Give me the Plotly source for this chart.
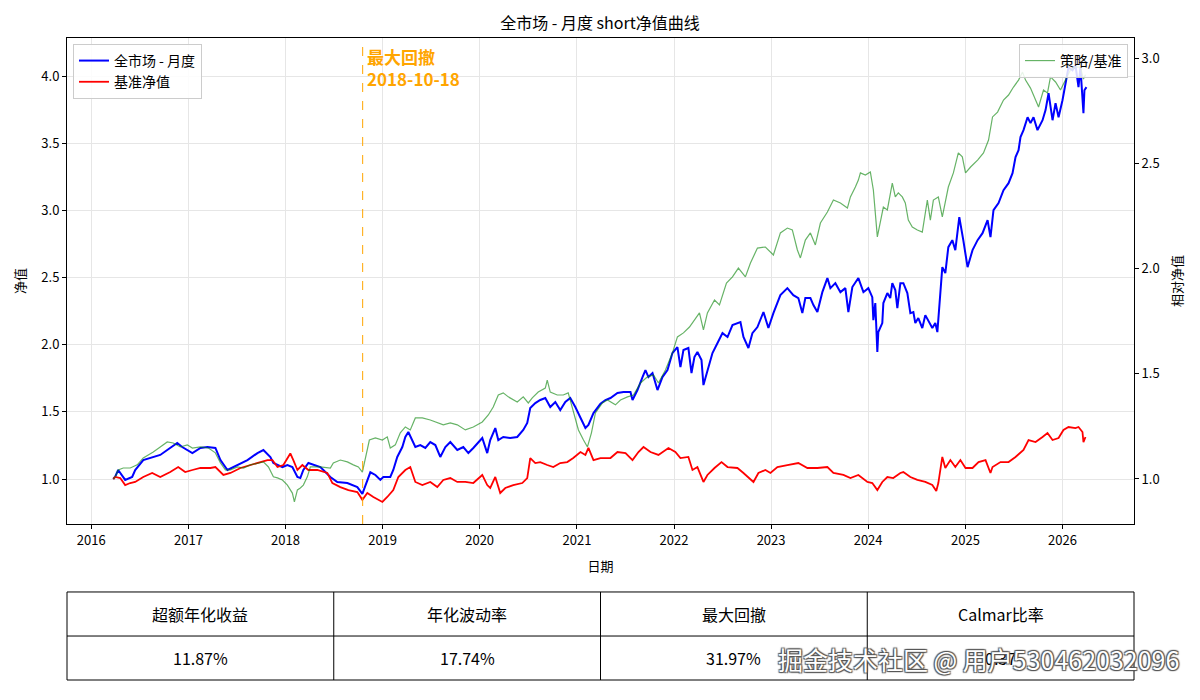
import pandas as pd
import plotly.graph_objects as go

# ---------------- data (decimal years) ----------------
strat_t = [2016.227, 2016.247, 2016.278, 2016.350, 2016.422, 2016.453, 2016.536, 2016.628, 2016.711, 2016.783,
           2016.886, 2016.937, 2017.040, 2017.123, 2017.195, 2017.277, 2017.329, 2017.401, 2017.504, 2017.607,
           2017.710, 2017.771, 2017.843, 2017.874, 2017.967, 2018.019, 2018.070, 2018.122, 2018.152, 2018.183,
           2018.235, 2018.307, 2018.358, 2018.389, 2018.461, 2018.533, 2018.636, 2018.739, 2018.791, 2018.822,
           2018.853, 2018.873, 2018.925, 2018.976, 2019.007, 2019.079, 2019.110, 2019.151, 2019.203, 2019.234,
           2019.265, 2019.306, 2019.337, 2019.388, 2019.440, 2019.491, 2019.543, 2019.594, 2019.646, 2019.697,
           2019.769, 2019.831, 2019.883, 2019.934, 2020.027, 2020.078, 2020.109, 2020.161, 2020.192, 2020.243,
           2020.315, 2020.387, 2020.449, 2020.490, 2020.521, 2020.573, 2020.624, 2020.676, 2020.727, 2020.779,
           2020.830, 2020.882, 2020.933, 2020.985, 2021.036, 2021.087, 2021.118, 2021.170, 2021.242, 2021.293,
           2021.345, 2021.417, 2021.479, 2021.551, 2021.572, 2021.623, 2021.675, 2021.705, 2021.736, 2021.778,
           2021.829, 2021.880, 2021.932, 2021.983, 2022.035, 2022.066, 2022.097, 2022.148, 2022.180, 2022.210,
           2022.241, 2022.283, 2022.303, 2022.344, 2022.396, 2022.448, 2022.499, 2022.551, 2022.602, 2022.684,
           2022.715, 2022.766, 2022.807, 2022.859, 2022.921, 2022.972, 2023.024, 2023.096, 2023.168, 2023.229,
           2023.281, 2023.322, 2023.353, 2023.405, 2023.436, 2023.477, 2023.528, 2023.580, 2023.611, 2023.662,
           2023.714, 2023.765, 2023.796, 2023.837, 2023.899, 2023.951, 2024.002, 2024.043, 2024.054, 2024.074,
           2024.095, 2024.105, 2024.146, 2024.157, 2024.198, 2024.228, 2024.249, 2024.280, 2024.301, 2024.332,
           2024.363, 2024.404, 2024.435, 2024.466, 2024.486, 2024.517, 2024.558, 2024.589, 2024.620, 2024.661,
           2024.692, 2024.713, 2024.764, 2024.795, 2024.826, 2024.867, 2024.898, 2024.939, 2024.980, 2025.022,
           2025.073, 2025.125, 2025.176, 2025.228, 2025.258, 2025.289, 2025.341, 2025.392, 2025.444, 2025.485,
           2025.516, 2025.547, 2025.567, 2025.598, 2025.640, 2025.670, 2025.701, 2025.742, 2025.794, 2025.825,
           2025.856, 2025.897, 2025.928, 2025.959, 2026.000, 2026.031, 2026.062, 2026.103, 2026.134, 2026.165,
           2026.185, 2026.216, 2026.226, 2026.247]
strat_v = [1.000, 1.017, 1.067, 0.993, 1.015, 1.067, 1.141, 1.164, 1.179, 1.216,
           1.268, 1.238, 1.193, 1.231, 1.238, 1.231, 1.141, 1.067, 1.104, 1.141,
           1.193, 1.216, 1.164, 1.119, 1.089, 1.104, 1.089, 1.015, 1.007, 1.067,
           1.119, 1.104, 1.089, 1.067, 1.015, 0.978, 0.970, 0.940, 0.890, 0.950,
           1.020, 1.050, 1.030, 0.993, 1.015, 1.015, 1.067, 1.164, 1.238, 1.313,
           1.350, 1.290, 1.238, 1.253, 1.231, 1.275, 1.253, 1.164, 1.238, 1.275,
           1.216, 1.238, 1.193, 1.231, 1.305, 1.193, 1.290, 1.379, 1.290, 1.313,
           1.305, 1.313, 1.365, 1.417, 1.528, 1.565, 1.588, 1.603, 1.536, 1.573,
           1.513, 1.573, 1.603, 1.536, 1.454, 1.380, 1.402, 1.491, 1.560, 1.588,
           1.603, 1.640, 1.647, 1.647, 1.588, 1.662, 1.759, 1.811, 1.759, 1.789,
           1.662, 1.759, 1.811, 1.938, 1.982, 1.833, 1.960, 1.975, 1.789, 1.908,
           1.945, 1.885, 1.699, 1.811, 1.938, 2.012, 2.086, 2.057, 2.146, 2.168,
           2.057, 1.975, 2.086, 2.131, 2.243, 2.124, 2.235, 2.369, 2.421, 2.369,
           2.347, 2.235, 2.347, 2.347, 2.295, 2.243, 2.391, 2.496, 2.421, 2.458,
           2.391, 2.421, 2.243, 2.429, 2.496, 2.391, 2.421, 2.354, 2.183, 2.310,
           1.945, 2.094, 2.161, 2.310, 2.384, 2.347, 2.458, 2.406, 2.272, 2.458,
           2.458, 2.384, 2.235, 2.243, 2.161, 2.198, 2.124, 2.220, 2.183, 2.124,
           2.161, 2.094, 2.577, 2.533, 2.726, 2.778, 2.704, 2.949, 2.778, 2.577,
           2.704, 2.778, 2.830, 2.927, 2.801, 3.001, 3.054, 3.150, 3.202, 3.277,
           3.396, 3.448, 3.545, 3.597, 3.693, 3.649, 3.693, 3.597, 3.671, 3.746,
           3.872, 3.671, 3.798, 3.693, 3.820, 3.946, 4.065, 4.043, 4.080, 3.917,
           4.065, 3.723, 3.894, 3.917]

bench_t = [2016.227, 2016.247, 2016.299, 2016.350, 2016.402, 2016.453, 2016.536, 2016.628, 2016.711, 2016.814,
           2016.896, 2016.968, 2017.040, 2017.123, 2017.226, 2017.277, 2017.359, 2017.432, 2017.535, 2017.637,
           2017.720, 2017.813, 2017.864, 2017.916, 2017.977, 2018.049, 2018.080, 2018.122, 2018.173, 2018.235,
           2018.327, 2018.430, 2018.482, 2018.564, 2018.647, 2018.739, 2018.791, 2018.842, 2018.904, 2018.997,
           2019.048, 2019.110, 2019.162, 2019.234, 2019.285, 2019.337, 2019.409, 2019.491, 2019.563, 2019.625,
           2019.697, 2019.769, 2019.852, 2019.934, 2020.027, 2020.078, 2020.109, 2020.161, 2020.212, 2020.264,
           2020.346, 2020.439, 2020.490, 2020.521, 2020.573, 2020.624, 2020.696, 2020.758, 2020.830, 2020.902,
           2020.964, 2021.036, 2021.087, 2021.118, 2021.170, 2021.242, 2021.345, 2021.417, 2021.500, 2021.572,
           2021.633, 2021.685, 2021.757, 2021.839, 2021.942, 2022.014, 2022.066, 2022.148, 2022.190, 2022.241,
           2022.303, 2022.344, 2022.417, 2022.489, 2022.551, 2022.653, 2022.715, 2022.766, 2022.818, 2022.869,
           2022.941, 2022.993, 2023.065, 2023.168, 2023.281, 2023.374, 2023.477, 2023.580, 2023.642, 2023.745,
           2023.817, 2023.899, 2023.992, 2024.043, 2024.095, 2024.146, 2024.198, 2024.259, 2024.332, 2024.363,
           2024.435, 2024.507, 2024.589, 2024.661, 2024.702, 2024.723, 2024.764, 2024.795, 2024.847, 2024.898,
           2024.950, 2025.001, 2025.073, 2025.135, 2025.207, 2025.258, 2025.279, 2025.361, 2025.444, 2025.516,
           2025.598, 2025.650, 2025.722, 2025.794, 2025.845, 2025.897, 2025.959, 2026.010, 2026.062, 2026.134,
           2026.165, 2026.206, 2026.216, 2026.237]
bench_v = [1.000, 1.015, 1.007, 0.955, 0.970, 0.978, 1.015, 1.045, 1.015, 1.052,
           1.089, 1.052, 1.067, 1.082, 1.082, 1.089, 1.030, 1.045, 1.082, 1.104,
           1.126, 1.141, 1.141, 1.089, 1.104, 1.190, 1.141, 1.067, 1.104, 1.067,
           1.067, 1.045, 0.970, 0.940, 0.918, 0.903, 0.845, 0.896, 0.866, 0.829,
           0.866, 0.918, 1.015, 1.067, 1.089, 0.978, 0.955, 0.978, 0.940, 0.993,
           1.007, 0.978, 0.978, 0.970, 1.030, 0.955, 0.933, 1.015, 0.896, 0.933,
           0.955, 0.970, 1.007, 1.156, 1.119, 1.126, 1.104, 1.089, 1.119, 1.126,
           1.156, 1.201, 1.179, 1.231, 1.141, 1.156, 1.156, 1.201, 1.193, 1.141,
           1.201, 1.238, 1.201, 1.179, 1.231, 1.201, 1.156, 1.164, 1.067, 1.089,
           0.978, 1.030, 1.082, 1.126, 1.089, 1.082, 1.045, 1.015, 0.978, 1.045,
           1.067, 1.045, 1.089, 1.104, 1.119, 1.082, 1.082, 1.089, 1.045, 1.030,
           1.007, 1.030, 0.978, 0.970, 0.918, 0.978, 1.015, 1.007, 1.045, 1.052,
           1.015, 0.993, 0.978, 0.955, 0.911, 0.970, 1.164, 1.082, 1.141, 1.089,
           1.141, 1.082, 1.082, 1.126, 1.141, 1.045, 1.089, 1.126, 1.126, 1.164,
           1.216, 1.290, 1.275, 1.313, 1.342, 1.290, 1.305, 1.365, 1.387, 1.379,
           1.387, 1.350, 1.275, 1.313]

ratio_t = [2016.227, 2016.247, 2016.278, 2016.330, 2016.402, 2016.474, 2016.536, 2016.639, 2016.711, 2016.783,
           2016.845, 2016.917, 2016.989, 2017.040, 2017.123, 2017.205, 2017.277, 2017.329, 2017.380, 2017.432,
           2017.504, 2017.565, 2017.637, 2017.710, 2017.771, 2017.823, 2017.874, 2017.916, 2017.967, 2018.019,
           2018.070, 2018.091, 2018.122, 2018.152, 2018.183, 2018.224, 2018.255, 2018.307, 2018.358, 2018.461,
           2018.492, 2018.564, 2018.636, 2018.698, 2018.750, 2018.791, 2018.822, 2018.863, 2018.925, 2018.997,
           2019.048, 2019.079, 2019.131, 2019.182, 2019.234, 2019.285, 2019.337, 2019.409, 2019.491, 2019.563,
           2019.625, 2019.697, 2019.769, 2019.852, 2019.934, 2020.027, 2020.089, 2020.140, 2020.192, 2020.243,
           2020.295, 2020.387, 2020.449, 2020.501, 2020.542, 2020.603, 2020.676, 2020.696, 2020.727, 2020.799,
           2020.861, 2020.912, 2020.964, 2021.015, 2021.067, 2021.108, 2021.149, 2021.190, 2021.262, 2021.314,
           2021.396, 2021.448, 2021.520, 2021.582, 2021.654, 2021.726, 2021.788, 2021.839, 2021.911, 2021.983,
           2022.035, 2022.097, 2022.159, 2022.231, 2022.262, 2022.303, 2022.344, 2022.417, 2022.468, 2022.540,
           2022.602, 2022.663, 2022.735, 2022.787, 2022.859, 2022.941, 2023.024, 2023.096, 2023.168, 2023.219,
           2023.271, 2023.302, 2023.353, 2023.405, 2023.456, 2023.508, 2023.580, 2023.642, 2023.714, 2023.786,
           2023.817, 2023.868, 2023.899, 2023.920, 2023.971, 2024.023, 2024.054, 2024.095, 2024.126, 2024.157,
           2024.198, 2024.249, 2024.280, 2024.311, 2024.352, 2024.383, 2024.414, 2024.455, 2024.507, 2024.558,
           2024.610, 2024.641, 2024.672, 2024.723, 2024.764, 2024.795, 2024.826, 2024.878, 2024.929, 2024.970,
           2025.001, 2025.053, 2025.125, 2025.186, 2025.238, 2025.279, 2025.331, 2025.392, 2025.444, 2025.495,
           2025.547, 2025.588, 2025.619, 2025.670, 2025.701, 2025.753, 2025.804, 2025.845, 2025.876, 2025.928,
           2025.979, 2026.031, 2026.082, 2026.134, 2026.185, 2026.216, 2026.237]
ratio_v = [1.000, 1.010, 1.043, 1.052, 1.052, 1.067, 1.100, 1.128, 1.152, 1.176,
           1.171, 1.152, 1.162, 1.147, 1.152, 1.147, 1.124, 1.076, 1.043, 1.043,
           1.057, 1.052, 1.067, 1.076, 1.081, 1.057, 1.010, 1.005, 0.995, 0.971,
           0.933, 0.891, 0.948, 0.957, 0.971, 1.010, 1.057, 1.057, 1.057, 1.052,
           1.076, 1.090, 1.081, 1.067, 1.057, 1.033, 1.105, 1.185, 1.195, 1.185,
           1.200, 1.147, 1.162, 1.219, 1.247, 1.233, 1.290, 1.290, 1.280, 1.266,
           1.257, 1.266, 1.257, 1.233, 1.247, 1.271, 1.304, 1.342, 1.399, 1.409,
           1.390, 1.366, 1.390, 1.361, 1.385, 1.413, 1.432, 1.470, 1.413, 1.399,
           1.399, 1.409, 1.328, 1.233, 1.185, 1.152, 1.219, 1.314, 1.361, 1.375,
           1.352, 1.375, 1.390, 1.399, 1.456, 1.485, 1.494, 1.456, 1.518, 1.599,
           1.675, 1.694, 1.722, 1.770, 1.789, 1.708, 1.789, 1.850, 1.827, 1.931,
           1.960, 2.002, 1.960, 2.026, 2.097, 2.102, 2.064, 2.169, 2.192, 2.183,
           2.088, 2.050, 2.135, 2.169, 2.112, 2.216, 2.268, 2.325, 2.311, 2.287,
           2.340, 2.387, 2.420, 2.454, 2.444, 2.459, 2.373, 2.150, 2.216, 2.292,
           2.278, 2.406, 2.340, 2.359, 2.340, 2.311, 2.230, 2.197, 2.183, 2.173,
           2.325, 2.230, 2.325, 2.340, 2.245, 2.325, 2.387, 2.454, 2.549, 2.530,
           2.454, 2.482, 2.515, 2.549, 2.610, 2.720, 2.743, 2.800, 2.824, 2.862,
           2.895, 2.933, 2.895, 2.857, 2.824, 2.767, 2.848, 2.834, 2.910, 2.886,
           2.848, 2.895, 2.943, 2.957, 2.957, 2.900, 2.920]

max_dd_date = "2018-10-18"
table_header = ["超额年化收益", "年化波动率", "最大回撤", "Calmar比率"]
table_values = ["11.87%", "17.74%", "31.97%", "0.37"]
left_ticks = [1.0, 1.5, 2.0, 2.5, 3.0, 3.5, 4.0]
right_ticks = [1.0, 1.5, 2.0, 2.5, 3.0]


def to_dates(years):
    out = []
    for v in years:
        y = int(v)
        out.append(pd.Timestamp(f"{y}-01-01") + pd.Timedelta(days=(v - y) * 365.25))
    return out


FONT = "Noto Sans CJK SC, Microsoft YaHei, sans-serif"

fig = go.Figure()
fig.add_trace(go.Scatter(x=to_dates(strat_t), y=strat_v, mode="lines", name="全市场 - 月度",
                         line=dict(color="#0000FF", width=2), legend="legend"))
fig.add_trace(go.Scatter(x=to_dates(bench_t), y=bench_v, mode="lines", name="基准净值",
                         line=dict(color="#FF0000", width=1.8), legend="legend"))
fig.add_trace(go.Scatter(x=to_dates(ratio_t), y=ratio_v, mode="lines", name="策略/基准",
                         line=dict(color="rgba(0,128,0,0.6)", width=1.2), yaxis="y2", legend="legend2"))

# ---- statistics table (drawn in paper coordinates under the chart) ----
row_top, row_mid, row_bot = 0.1371, 0.0685, 0.0
ncol = len(table_header)
fig.add_shape(type="rect", xref="paper", yref="paper", x0=0, x1=1, y0=row_bot, y1=row_top,
              line=dict(color="black", width=1), fillcolor="white", layer="below")
fig.add_shape(type="line", xref="paper", yref="paper", x0=0, x1=1, y0=row_mid, y1=row_mid,
              line=dict(color="black", width=1))
for i in range(1, ncol):
    fig.add_shape(type="line", xref="paper", yref="paper", x0=i / ncol, x1=i / ncol, y0=row_bot, y1=row_top,
                  line=dict(color="black", width=1))
for i, (h, v) in enumerate(zip(table_header, table_values)):
    cx = (i + 0.5) / ncol
    fig.add_annotation(x=cx, y=(row_top + row_mid) / 2, xref="paper", yref="paper", text=h,
                       showarrow=False, xanchor="center", yanchor="middle",
                       font=dict(family=FONT, size=16, color="black"))
    fig.add_annotation(x=cx, y=(row_mid + row_bot) / 2, xref="paper", yref="paper", text=v,
                       showarrow=False, xanchor="center", yanchor="middle",
                       font=dict(family=FONT, size=16, color="black"))

fig.add_shape(type="line", xref="x", yref="paper", x0=max_dd_date, x1=max_dd_date,
              y0=0.24299, y1=1, line=dict(color="#FFA500", width=1, dash="dash"))
fig.add_annotation(x=max_dd_date, xref="x", y=0.9945, yref="paper", xanchor="left", yanchor="top",
                   xshift=2, showarrow=False, align="left",
                   text="<b>最大回撤<br>2018-10-18</b>",
                   font=dict(family=FONT, size=17, color="#FFA500"))

fig.add_annotation(x=1.0, xref="paper", xanchor="right", xshift=47, y=0.0, yref="paper", yanchor="bottom",
                   yshift=1, showarrow=False, text="掘金技术社区 @ 用户530462032096",
                   font=dict(family=FONT, size=25, color="white",
                             shadow="1px 1px 1px #555, -1px -1px 1px #555, 1px -1px 1px #555, -1px 1px 1px #555"))

axis_common = dict(showline=True, linecolor="black", linewidth=1, ticks="outside", ticklen=4,
                   tickcolor="black", tickfont=dict(family=FONT, size=13, color="black"))

fig.update_layout(
    width=1200, height=700,
    margin=dict(l=67, r=66, t=38, b=20),
    paper_bgcolor="white", plot_bgcolor="white",
    font=dict(family=FONT, size=12, color="black"),
    title=dict(text="全市场 - 月度 short净值曲线", x=0.5, xanchor="center", y=0.967, yanchor="middle",
               font=dict(family=FONT, size=16, color="black")),
    xaxis=dict(domain=[0, 1], range=["2015-10-02", "2026-09-27"], type="date",
               dtick="M12", tick0="2016-01-01", tickformat="%Y", mirror=True,
               showgrid=True, gridcolor="#e6e6e6", gridwidth=1, anchor="y",
               title=dict(text="日期", standoff=14, font=dict(family=FONT, size=13)), **axis_common),
    yaxis=dict(domain=[0.24299, 1], range=[0.665, 4.283], tickvals=left_ticks,
               ticktext=[f"{v:.1f}" for v in left_ticks], mirror=True,
               showgrid=True, gridcolor="#e6e6e6", gridwidth=1, zeroline=False,
               title=dict(text="净值", standoff=12, font=dict(family=FONT, size=13)), **axis_common),
    yaxis2=dict(overlaying="y", side="right", range=[0.786, 3.095], tickvals=right_ticks,
                ticktext=[f"{v:.1f}" for v in right_ticks], showgrid=False, zeroline=False,
                title=dict(text="相对净值", standoff=14, font=dict(family=FONT, size=13)), **axis_common),
    legend=dict(x=0.0056, y=0.9907, xanchor="left", yanchor="top", bgcolor="rgba(255,255,255,0.85)",
                bordercolor="#cccccc", borderwidth=1, font=dict(family=FONT, size=14)),
    legend2=dict(x=0.9944, y=0.9907, xanchor="right", yanchor="top", bgcolor="rgba(255,255,255,0.85)",
                 bordercolor="#cccccc", borderwidth=1, font=dict(family=FONT, size=14)),
    showlegend=True,
)

fig.write_html("out.html")
